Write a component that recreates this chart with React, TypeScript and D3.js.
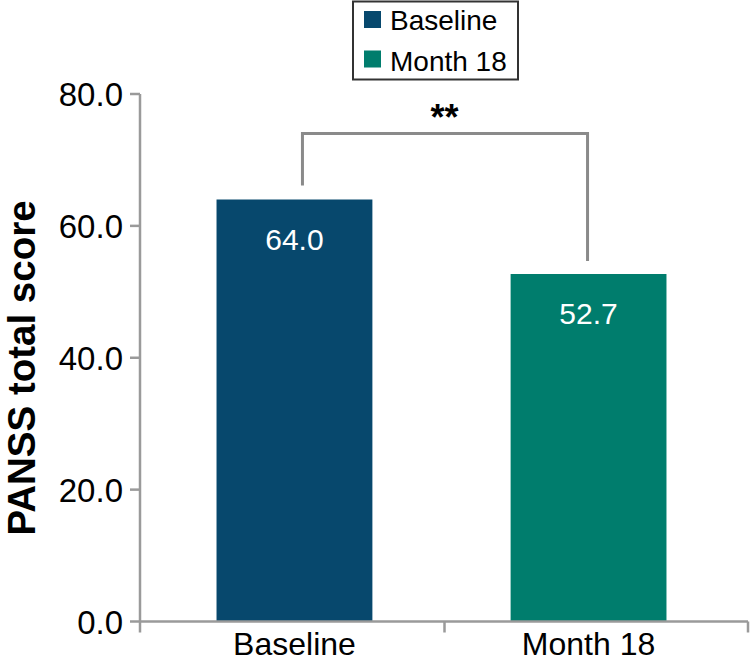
import React from "react";
import * as d3 from "d3";

const categories = ["Baseline", "Month 18"];
const values = [64.0, 52.7];
const valueLabels = ["64.0", "52.7"];
const colors = ["#07486d", "#007d6d"];
const yTicks = [0, 20, 40, 60, 80];
const yTickLabels = ["0.0", "20.0", "40.0", "60.0", "80.0"];
const bracketLevel = 74;
const significance = "**";
const yTitle = "PANSS total score";

const W = 753;
const H = 661;

export default function App() {
  const y = d3.scaleLinear().domain([0, 80]).range([621.5, 94]);
  const x = d3
    .scaleBand<string>()
    .domain(categories)
    .range([143, 740])
    .paddingInner(0.47)
    .paddingOuter(0.25);
  const bw = x.bandwidth();
  const axisColor = "#9a9a9a";
  const font = "Liberation Sans, Arial, Helvetica, sans-serif";
  const x0 = 140;
  const x1 = 748;
  const midTick = (x(categories[0])! + bw + x(categories[1])!) / 2 + 3;
  const cx = (c: string) => x(c)! + bw / 2;

  return (
    <div style={{ position: "absolute", left: 0, top: 0 }}>
      <svg width={W} height={H} style={{ display: "block", background: "#fff" }} fontFamily={font}>
        {/* bars */}
        {categories.map((c, i) => (
          <rect key={c} x={x(c)} y={y(values[i])} width={bw} height={y(0) - y(values[i])} fill={colors[i]} />
        ))}
        {/* value labels */}
        {categories.map((c, i) => (
          <text key={c + "v"} x={cx(c)} y={y(values[i]) + 50} textAnchor="middle" fontSize={30} fill="#fff">
            {valueLabels[i]}
          </text>
        ))}
        {/* y axis */}
        <line x1={x0} x2={x0} y1={y(80)} y2={y(0) + 11} stroke={axisColor} strokeWidth={2.5} />
        {yTicks.map((t, i) => (
          <g key={t}>
            <line x1={x0 - 10} x2={x0} y1={y(t)} y2={y(t)} stroke={axisColor} strokeWidth={2.5} />
            <text x={x0 - 17} y={y(t)} dy="0.37em" textAnchor="end" fontSize={33} fill="#000">
              {yTickLabels[i]}
            </text>
          </g>
        ))}
        {/* x axis */}
        <line x1={x0} x2={x1} y1={y(0)} y2={y(0)} stroke={axisColor} strokeWidth={2.5} />
        {[midTick, x1].map((tx, i) => (
          <line key={i} x1={tx} x2={tx} y1={y(0)} y2={y(0) + 11} stroke={axisColor} strokeWidth={2.5} />
        ))}
        {categories.map((c) => (
          <text key={c + "l"} x={cx(c)} y={655} textAnchor="middle" fontSize={32} fill="#000">
            {c}
          </text>
        ))}
        {/* y title */}
        <text
          transform={`translate(35, 368) rotate(-90)`}
          textAnchor="middle"
          fontSize={38.5}
          fontWeight="bold"
          fill="#000"
        >
          {yTitle}
        </text>
        {/* significance bracket */}
        <path
          d={`M${cx(categories[0]) + 8},${y(values[0]) - 14} V${y(bracketLevel)} H${cx(categories[1]) - 1} V${y(values[1]) - 13}`}
          fill="none"
          stroke="#8a8a8a"
          strokeWidth={3}
        />
        <text x={(cx(categories[0]) + cx(categories[1])) / 2 + 3} y={130} textAnchor="middle" fontSize={36} fontWeight="bold" fill="#000">
          {significance}
        </text>
        {/* legend */}
        <rect x={353} y={1.5} width={165} height={78} fill="#fff" stroke="#333" strokeWidth={2} />
        {categories.map((c, i) => (
          <g key={c + "lg"}>
            <rect x={364} y={11 + i * 39.5} width={17} height={17} fill={colors[i]} />
            <text x={390} y={30 + i * 40.5} fontSize={28} fill="#000">
              {c}
            </text>
          </g>
        ))}
      </svg>
    </div>
  );
}
